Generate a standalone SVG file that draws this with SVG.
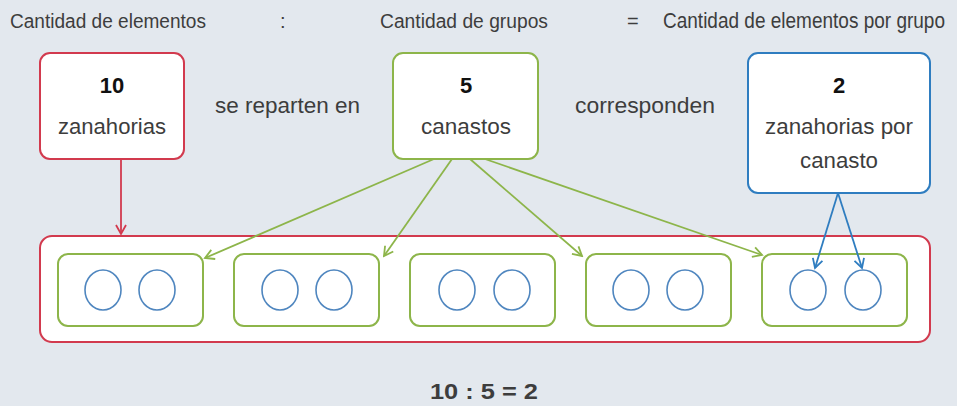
<svg xmlns="http://www.w3.org/2000/svg" width="957" height="406" viewBox="0 0 957 406">
<defs>
<style>
.t{font-family:"Liberation Sans",Arial,sans-serif;fill:#3d3d3d;font-size:22px}
.h{font-size:20px}
.n{font-weight:bold;fill:#111}
.red{fill:#fff;stroke:#d23a4e;stroke-width:2}
.grn{fill:#fff;stroke:#8db54a;stroke-width:2}
.blu{fill:#fff;stroke:#2f7dc0;stroke-width:2}
.c{fill:#fff;stroke:#4f86bf;stroke-width:1.6}
.cr{stroke:#d23a4e;stroke-width:1.8;fill:none}
.cg{stroke:#8db54a;stroke-width:1.8;fill:none}
.cb{stroke:#2f7dc0;stroke-width:1.8;fill:none}
</style>
<marker id="mr" markerWidth="12" markerHeight="12" refX="10" refY="6" orient="auto" markerUnits="userSpaceOnUse"><path d="M1,1 L10,6 L1,11" fill="none" stroke="#d23a4e" stroke-width="1.8"/></marker>
<marker id="mg" markerWidth="12" markerHeight="12" refX="10" refY="6" orient="auto" markerUnits="userSpaceOnUse"><path d="M1,1 L10,6 L1,11" fill="none" stroke="#8db54a" stroke-width="1.8"/></marker>
<marker id="mb" markerWidth="12" markerHeight="12" refX="10" refY="6" orient="auto" markerUnits="userSpaceOnUse"><path d="M1,1 L10,6 L1,11" fill="none" stroke="#2f7dc0" stroke-width="1.8"/></marker>
</defs>
<rect width="957" height="406" fill="#e3e8ee"/>
<g id="header">
<text class="t h" x="10" y="28" textLength="196" lengthAdjust="spacingAndGlyphs">Cantidad de elementos</text>
<text class="t h" x="280" y="28">:</text>
<text class="t h" x="380" y="28" textLength="168" lengthAdjust="spacingAndGlyphs">Cantidad de grupos</text>
<text class="t h" x="627" y="28">=</text>
<text class="t" x="663" y="28" font-size="18" textLength="282" lengthAdjust="spacingAndGlyphs">Cantidad de elementos por grupo</text>
</g>
<g id="container">
<rect class="red" x="40" y="236" width="890" height="106" rx="12"/>
</g>
<g id="basket1"><rect class="grn" x="58" y="254" width="145" height="72" rx="10"/><ellipse class="c" cx="103" cy="290" rx="18" ry="20"/><ellipse class="c" cx="157" cy="290" rx="18" ry="20"/></g>
<g id="basket2"><rect class="grn" x="234" y="254" width="145" height="72" rx="10"/><ellipse class="c" cx="280" cy="290" rx="18" ry="20"/><ellipse class="c" cx="334" cy="290" rx="18" ry="20"/></g>
<g id="basket3"><rect class="grn" x="410" y="254" width="145" height="72" rx="10"/><ellipse class="c" cx="457" cy="290" rx="18" ry="20"/><ellipse class="c" cx="512" cy="290" rx="18" ry="20"/></g>
<g id="basket4"><rect class="grn" x="586" y="254" width="145" height="72" rx="10"/><ellipse class="c" cx="631" cy="290" rx="18" ry="20"/><ellipse class="c" cx="685" cy="290" rx="18" ry="20" stroke="#2f7dc0" stroke-width="2"/></g>
<g id="basket5"><rect class="grn" x="762" y="254" width="145" height="72" rx="10"/><ellipse class="c" cx="808" cy="290" rx="18" ry="20" stroke="#2f7dc0" stroke-width="2"/><ellipse class="c" cx="863" cy="290" rx="18" ry="20" stroke="#2f7dc0" stroke-width="2"/></g>
<g id="nodeRed"><rect class="red" x="40" y="53" width="144" height="106" rx="10"/>
<text class="t n" x="112" y="93" text-anchor="middle">10</text>
<text class="t" x="112" y="134" text-anchor="middle" textLength="108" lengthAdjust="spacingAndGlyphs">zanahorias</text></g>
<g id="nodeGreen"><rect class="grn" x="393" y="53" width="145" height="106" rx="10"/>
<text class="t n" x="466" y="93" text-anchor="middle">5</text>
<text class="t" x="466" y="134" text-anchor="middle" textLength="90" lengthAdjust="spacingAndGlyphs">canastos</text></g>
<g id="nodeBlue"><rect class="blu" x="748" y="53" width="182" height="140" rx="10"/>
<text class="t n" x="839" y="93" text-anchor="middle">2</text>
<text class="t" x="839" y="134" text-anchor="middle" textLength="148" lengthAdjust="spacingAndGlyphs">zanahorias por</text>
<text class="t" x="839" y="168" text-anchor="middle" textLength="78" lengthAdjust="spacingAndGlyphs">canasto</text></g>
<g id="labels">
<text class="t" x="215" y="113" textLength="145" lengthAdjust="spacingAndGlyphs">se reparten en</text>
<text class="t" x="575" y="113" textLength="140" lengthAdjust="spacingAndGlyphs">corresponden</text>
<text class="t" x="484" y="399" text-anchor="middle" font-weight="bold" fill="#4a4a4a" textLength="108" lengthAdjust="spacingAndGlyphs">10 : 5 = 2</text>
</g>
<g id="connectors">
<line class="cr" x1="121" y1="159" x2="121" y2="234" marker-end="url(#mr)"/>
<line class="cg" x1="434" y1="159" x2="205" y2="258" marker-end="url(#mg)"/>
<line class="cg" x1="452" y1="159" x2="384" y2="256" marker-end="url(#mg)"/>
<line class="cg" x1="470" y1="159" x2="582" y2="256" marker-end="url(#mg)"/>
<line class="cg" x1="485" y1="159" x2="762" y2="255" marker-end="url(#mg)"/>
<line class="cb" x1="838" y1="193" x2="815" y2="268" marker-end="url(#mb)"/>
<line class="cb" x1="838" y1="193" x2="862" y2="268" marker-end="url(#mb)"/>
</g>
</svg>
